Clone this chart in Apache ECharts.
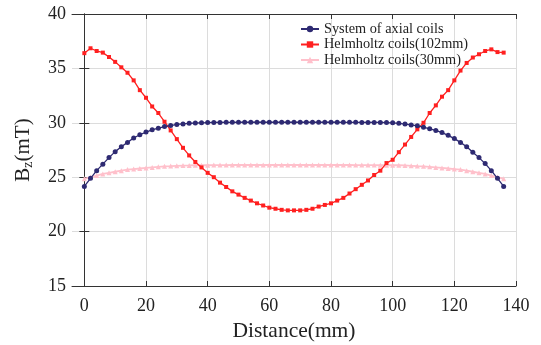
<!DOCTYPE html>
<html><head><meta charset="utf-8">
<script src="https://cdn.jsdelivr.net/npm/echarts@6/dist/echarts.min.js"></script>
<style>html,body{margin:0;padding:0;background:#fff}#c{width:541px;height:345px}</style>
</head><body><div id="c"></div>
<script>
var distance = [];
for (var i = 0; i <= 136; i += 2) distance.push(i);
var axialCoils = [24.15,24.9,25.6,26.2,26.8,27.35,27.8,28.2,28.6,28.9,29.15,29.35,29.5,29.65,29.75,29.85,29.9,29.95,29.98,30.0,30.02,30.03,30.03,30.04,30.04,30.05,30.05,30.05,30.05,30.05,30.05,30.05,30.05,30.05,30.05,30.05,30.05,30.05,30.05,30.05,30.05,30.05,30.04,30.04,30.04,30.03,30.03,30.03,30.03,30.02,30.0,29.95,29.88,29.8,29.72,29.6,29.45,29.3,29.1,28.85,28.55,28.2,27.8,27.3,26.8,26.25,25.6,24.9,24.15];
var helmholtz102 = [36.4,36.85,36.6,36.45,36.05,35.6,35.1,34.6,33.9,33.0,32.3,31.5,30.9,30.1,29.3,28.5,27.7,27.0,26.4,25.9,25.4,25.0,24.5,24.1,23.7,23.4,23.1,22.85,22.6,22.4,22.2,22.1,22.0,21.95,21.95,21.95,22.0,22.1,22.3,22.45,22.6,22.85,23.1,23.5,23.9,24.3,24.7,25.2,25.6,26.3,26.6,27.3,28.0,28.7,29.4,30.0,30.9,31.6,32.4,33.0,33.9,34.8,35.5,36.0,36.3,36.6,36.75,36.5,36.45];
var helmholtz30 = [24.85,25.0,25.15,25.3,25.4,25.5,25.6,25.7,25.75,25.8,25.85,25.9,25.95,26.0,26.02,26.05,26.07,26.08,26.1,26.1,26.1,26.11,26.11,26.11,26.12,26.12,26.12,26.12,26.12,26.12,26.12,26.12,26.12,26.12,26.12,26.12,26.12,26.12,26.12,26.12,26.12,26.12,26.12,26.12,26.11,26.11,26.11,26.11,26.1,26.1,26.1,26.1,26.08,26.05,26.02,26.0,25.95,25.9,25.85,25.8,25.75,25.7,25.6,25.5,25.4,25.3,25.15,25.0,24.85];
var seriesNames = ['System of axial coils','Helmholtz coils(102mm)','Helmholtz coils(30mm)'];
var xTicks = [0,20,40,60,80,100,120,140];
var yTicks = [15,20,25,30,35,40];

function pairs(v){ return distance.map(function(x,i){ return [x, v[i]]; }); }
var font = 'Liberation Serif';
var chart = echarts.init(document.getElementById('c'), null, {renderer:'canvas'});
chart.setOption({
  animation:false,
  textStyle:{fontFamily:font},
  grid:{left:72,right:25,top:14,bottom:59,containLabel:false,outerBoundsMode:'none'},
  legend:{
    data:seriesNames, orient:'vertical', left:300, top:22, itemGap:1.5, itemWidth:18, itemHeight:8,
    textStyle:{fontFamily:font,fontSize:14.3,color:'#222'}, padding:0
  },
  xAxis:[{
    type:'value', min:-4, max:140, interval:20,
    name:'Distance(mm)', nameLocation:'middle', nameGap:33,
    nameTextStyle:{fontFamily:font,fontSize:21.5,color:'#222'},
    axisLine:{show:true,lineStyle:{color:'#333',width:1}},
    axisTick:{show:true,inside:true,length:5,lineStyle:{color:'#333'},customValues:xTicks},
    axisLabel:{fontFamily:font,fontSize:18,color:'#222',margin:11,customValues:xTicks},
    splitLine:{show:true,lineStyle:{color:'#dcdcdc'}}
  },{
    type:'value', position:'top', min:-4, max:140,
    axisLine:{show:true,lineStyle:{color:'#333',width:1}},
    axisTick:{show:true,inside:true,length:5,lineStyle:{color:'#333'},customValues:xTicks},
    axisLabel:{show:false,customValues:xTicks}, splitLine:{show:false}
  }],
  yAxis:[{
    type:'value', min:15, max:40, interval:5,
    name:'{b|B}{s|z}{b|(mT)}', nameLocation:'middle', nameGap:37, nameRotate:90,
    nameTextStyle:{rich:{
      b:{fontFamily:font,fontSize:21,color:'#222'},
      s:{fontFamily:font,fontSize:14,color:'#222',padding:[9,0,0,0]}
    }},
    axisLine:{show:true,lineStyle:{color:'#333',width:1}},
    axisTick:{show:true,inside:true,length:5,lineStyle:{color:'#333'}},
    axisLabel:{fontFamily:font,fontSize:18,color:'#222',margin:6},
    splitLine:{show:true,lineStyle:{color:'#dcdcdc'}}
  },{
    type:'value', position:'right', min:15, max:40, interval:5,
    axisLine:{show:true,lineStyle:{color:'#333',width:1}},
    axisTick:{show:true,inside:true,length:5,lineStyle:{color:'#333'}},
    axisLabel:{show:false}, splitLine:{show:false}
  }],
  series:[
    {name:seriesNames[2], type:'line', data:pairs(helmholtz30), symbol:'triangle', symbolSize:5,
     itemStyle:{color:'#FFC0CB'}, lineStyle:{color:'#FFC0CB',width:1.8}, z:2},
    {name:seriesNames[1], type:'line', data:pairs(helmholtz102), symbol:'rect', symbolSize:4,
     itemStyle:{color:'#FF2020'}, lineStyle:{color:'#FF2020',width:1.3}, z:3},
    {name:seriesNames[0], type:'line', data:pairs(axialCoils), symbol:'circle', symbolSize:5,
     itemStyle:{color:'#2E2A72'}, lineStyle:{color:'#2E2A72',width:1.3}, z:4}
  ]
});
</script></body></html>
